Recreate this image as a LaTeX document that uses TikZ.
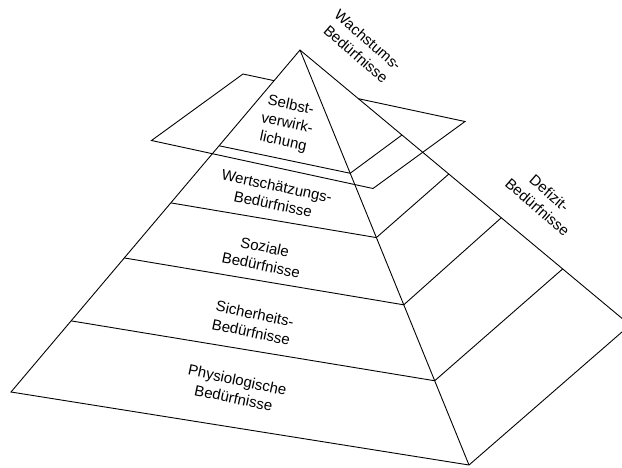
\documentclass[tikz,border=0pt]{standalone}
\usepackage{fontspec}
\setmainfont{Liberation Sans}
\usetikzlibrary{calc}
\begin{document}
\begin{tikzpicture}[x=1pt,y=-1pt,line width=0.9pt,line join=miter,
  layerlbl/.style={align=center,font=\fontsize{15}{18.5}\selectfont,inner sep=0pt,rotate=-12},
  sidelbl/.style={align=center,font=\fontsize{15}{18.5}\selectfont,inner sep=0pt,rotate=-41}]
\clip (0,0) rectangle (622,467);
% pyramid corners
\coordinate (A) at (300,50);
\coordinate (L) at (11,392);
\coordinate (F) at (469,465);
\coordinate (R) at (630,325);
% level boundaries on the three visible edges
\foreach \n/\tl/\tf/\tr in {1/0.28/0.297/0.309, 2/0.447/0.452/0.451, 3/0.608/0.614/0.61, 4/0.792/0.797/0.796}{
  \coordinate (L\n) at ($(A)!\tl!(L)$);
  \coordinate (F\n) at ($(A)!\tf!(F)$);
  \coordinate (R\n) at ($(A)!\tr!(R)$);
}
% cutting plane
\coordinate (P1) at (243,74);
\coordinate (P2) at (465,121.5);
\coordinate (P3) at (373,188.5);
\coordinate (P4) at (151.5,140.5);
\coordinate (Xl) at (intersection of A--L and P1--P2);
\coordinate (Xr) at (intersection of A--R and P1--P2);

% pyramid outline and front edge
\draw (A) -- (L) -- (F) -- (R) -- cycle;
\draw (A) -- (F);
% level lines
\foreach \n in {1,2,3,4}{
  \draw (L\n) -- (F\n) -- (R\n);
}
% plane, its far edge hidden behind the pyramid
\draw (Xl) -- (P1) -- (P4) -- (P3) -- (P2) -- (Xr);

% labels
\node[layerlbl] (selbst) at (287,124) {Selbst-\\verwirk-\\lichung};
\node[layerlbl] (wert) at (275,195) {Wertschätzungs-\\Bedürfnisse};
\node[layerlbl] (sozial) at (263,256) {Soziale\\Bedürfnisse};
\node[layerlbl] (sicher) at (253,323) {Sicherheits-\\Bedürfnisse};
\node[layerlbl] (physio) at (235.5,389) {Physiologische\\Bedürfnisse};
\node[sidelbl] (wachstum) at (362,47) {Wachstums-\\Bedürfnisse};
\node[sidelbl] (defizit) at (543.5,200) {Defizit-\\Bedürfnisse};
\end{tikzpicture}
\end{document}
